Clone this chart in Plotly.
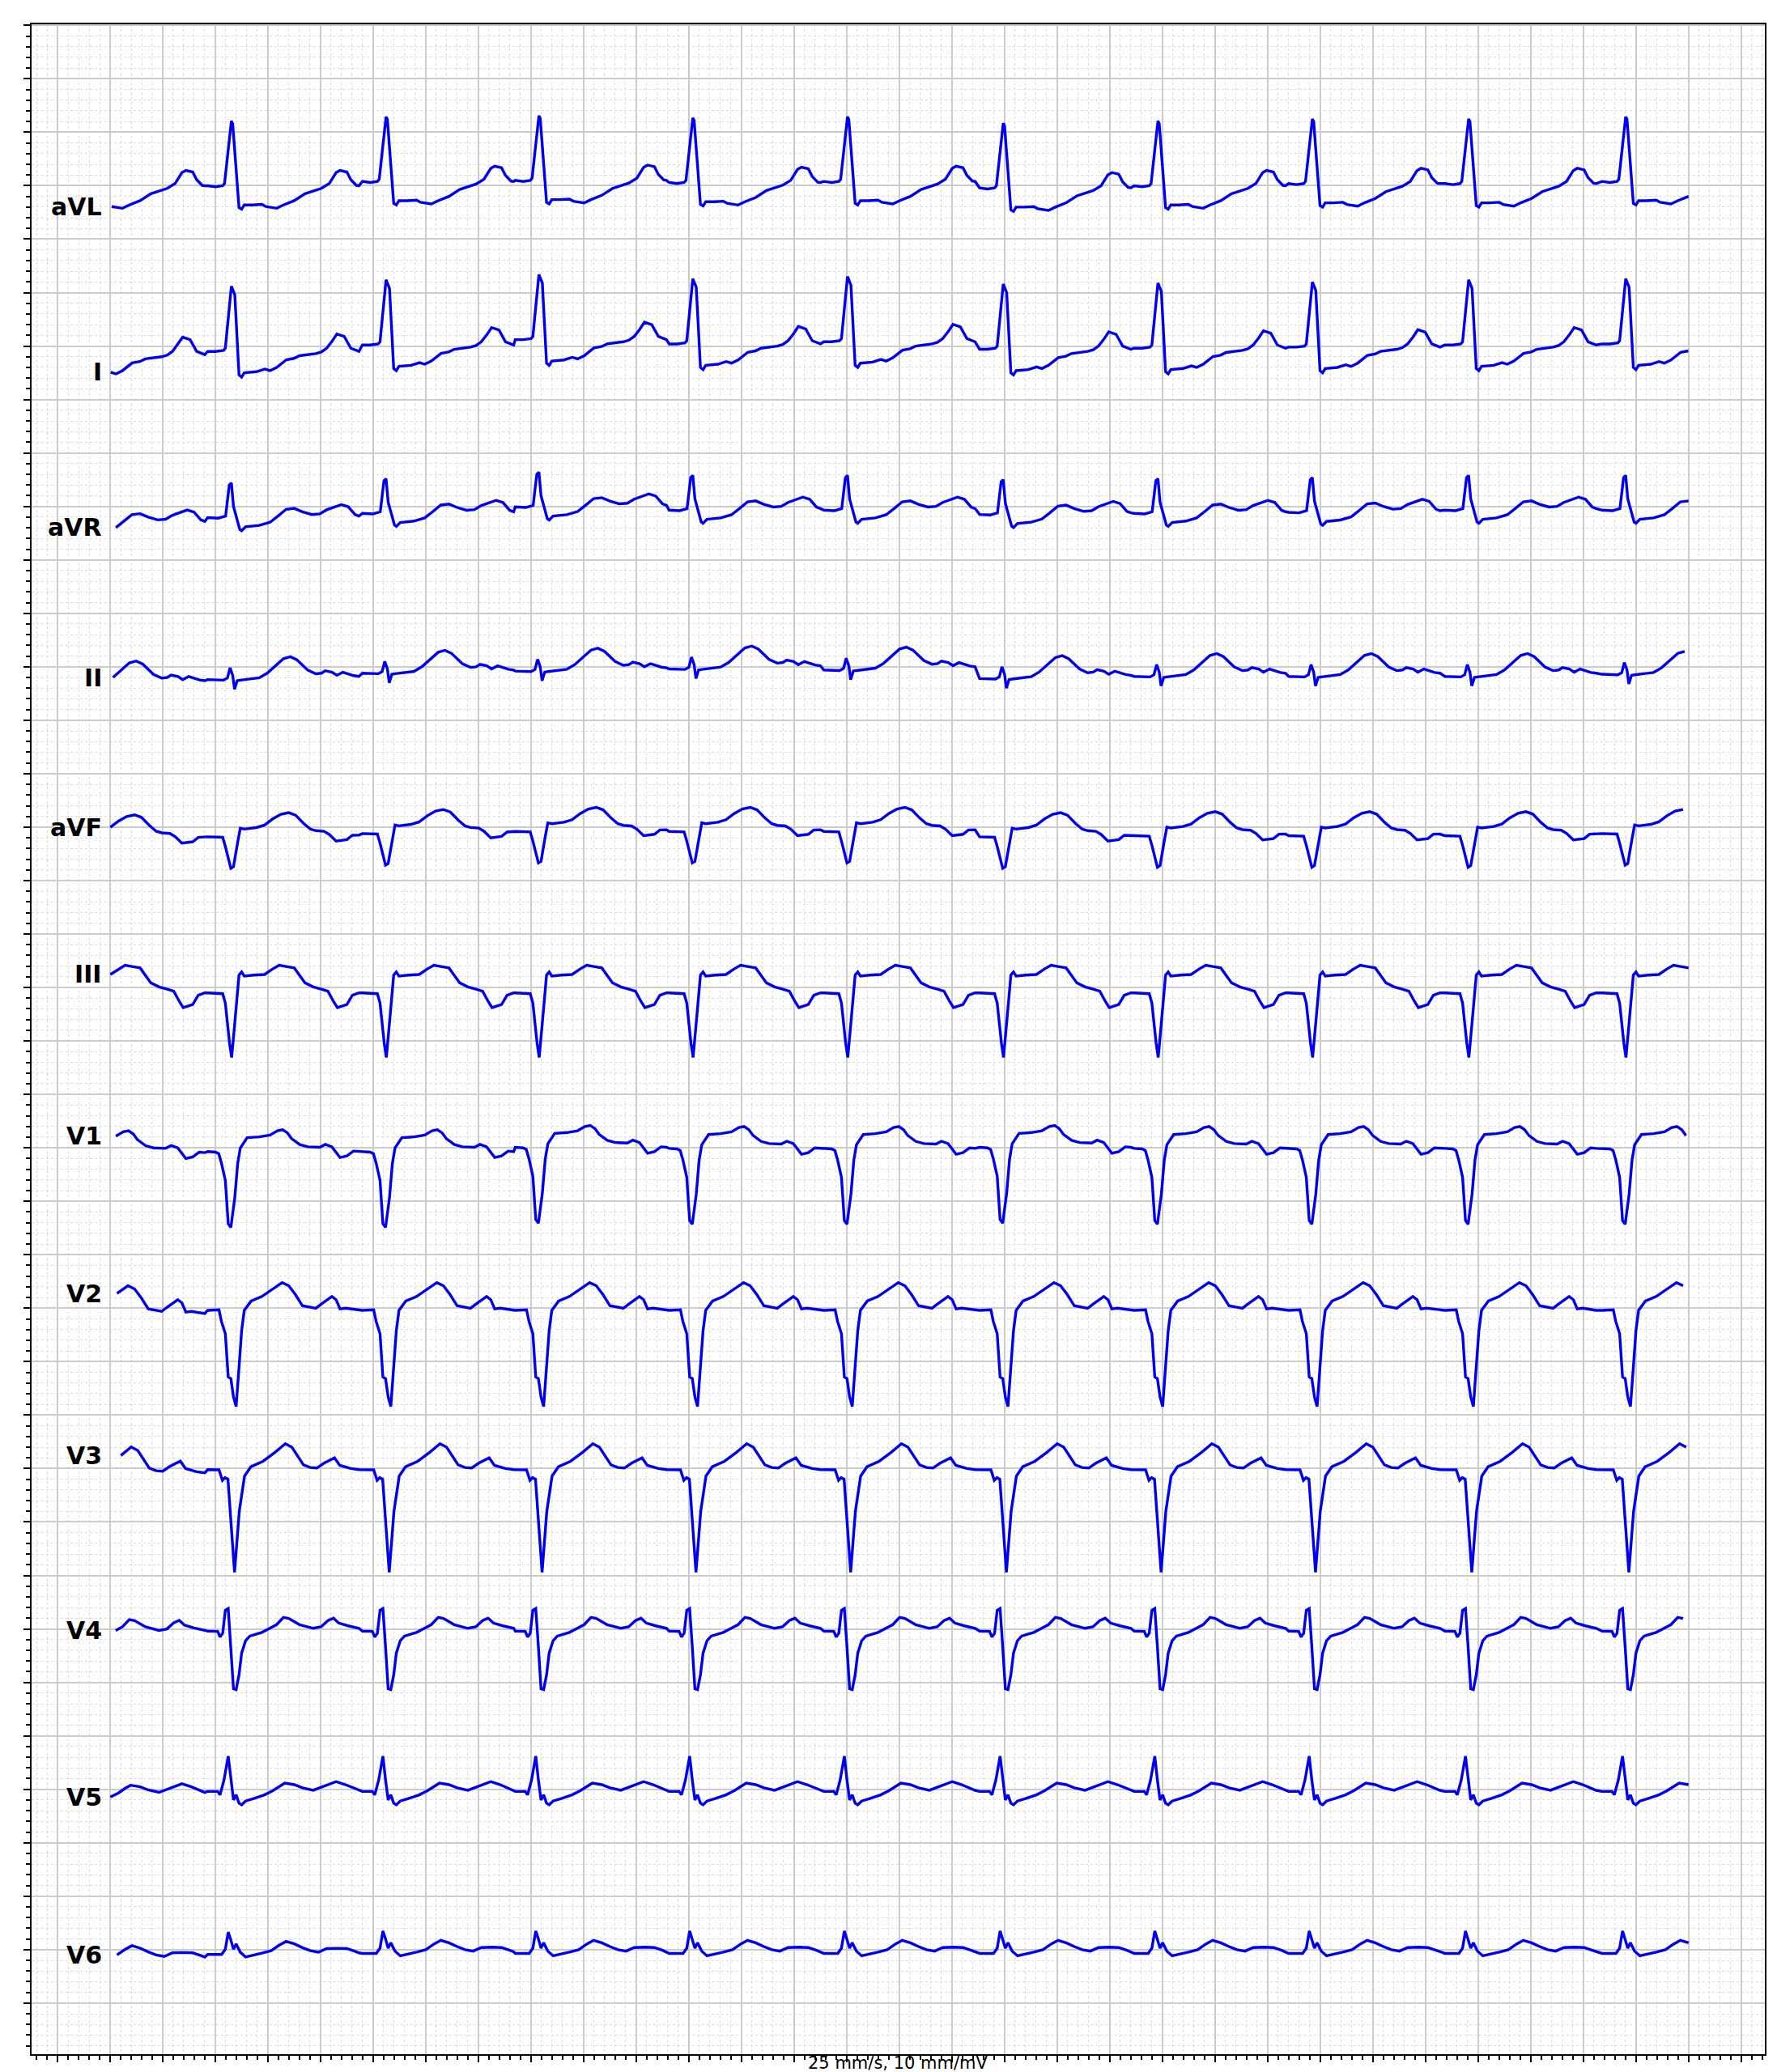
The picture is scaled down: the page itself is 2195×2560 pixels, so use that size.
import plotly.graph_objects as go

# leads from top to bottom
LEADS = ["aVL", "I", "aVR", "II", "aVF", "III", "V1", "V2", "V3", "V4", "V5", "V6"]
ROW_STEP = 1.5  # mV between rows
T_END = 6.0     # s

# R-peak times (s); the first one is the beat just before the strip starts
R_PEAKS = [-0.125, 0.461, 1.049, 1.630, 2.215, 2.803, 3.395, 3.983, 4.570, 5.164, 5.761]

# one beat per lead: (seconds from R peak, mV)
AVL_BEAT = [(-0.090, 0.040), (-0.060, 0.030), (-0.033, 0.040), (-0.026, 0.060), (0.000, 0.645),
            (0.005, 0.620), (0.029, -0.165), (0.039, -0.180), (0.049, -0.140), (0.080, -0.140),
            (0.116, -0.135), (0.131, -0.155), (0.172, -0.171), (0.198, -0.140), (0.239, -0.100),
            (0.280, -0.035), (0.342, 0.015), (0.372, 0.060), (0.398, 0.162), (0.413, 0.183),
            (0.439, 0.168), (0.454, 0.096), (0.475, 0.043), (0.485, 0.040)]
I_BEAT = [(-0.090, 0.020), (-0.060, 0.020), (-0.030, 0.030), (-0.023, 0.050), (0.000, 0.630),
          (0.013, 0.550), (0.029, -0.200), (0.039, -0.220), (0.049, -0.180), (0.095, -0.170),
          (0.127, -0.145), (0.147, -0.160), (0.172, -0.130), (0.209, -0.058), (0.238, -0.045),
          (0.259, -0.020), (0.321, 0.000), (0.342, 0.015), (0.362, 0.050), (0.383, 0.116),
          (0.401, 0.183), (0.429, 0.160), (0.454, 0.050), (0.485, 0.020)]
AVR_BEAT = [(-0.090, -0.035), (-0.050, -0.040), (-0.022, -0.020), (-0.008, 0.270), (0.000, 0.290),
            (0.008, 0.070), (0.018, -0.020), (0.032, -0.145), (0.039, -0.157), (0.054, -0.120),
            (0.106, -0.107), (0.147, -0.078), (0.177, -0.020), (0.208, 0.043), (0.239, 0.052),
            (0.270, 0.020), (0.306, -0.006), (0.336, 0.000), (0.362, 0.038), (0.393, 0.067),
            (0.418, 0.087), (0.444, 0.067), (0.470, -0.006), (0.485, -0.020)]
II_BEAT = [(-0.090, -0.060), (-0.030, -0.065), (-0.015, -0.045), (-0.005, 0.050), (0.005, -0.020),
           (0.012, -0.150), (0.022, -0.070), (0.034, -0.065), (0.065, -0.055), (0.106, -0.043),
           (0.136, 0.000), (0.167, 0.072), (0.198, 0.136), (0.224, 0.154), (0.249, 0.125),
           (0.290, 0.029), (0.321, -0.006), (0.342, 0.000), (0.357, 0.023), (0.383, 0.009),
           (0.401, -0.020), (0.424, 0.009), (0.465, -0.023), (0.485, -0.030)]
AVF_BEAT = [(-0.090, -0.060), (-0.033, -0.065), (-0.023, -0.150), (-0.002, -0.355), (0.008, -0.340),
            (0.024, -0.110), (0.034, 0.020), (0.049, 0.012), (0.095, 0.026), (0.126, 0.049),
            (0.157, 0.107), (0.188, 0.150), (0.218, 0.165), (0.244, 0.142), (0.275, 0.064),
            (0.300, 0.012), (0.321, -0.003), (0.352, -0.009), (0.372, -0.038), (0.398, -0.100),
            (0.413, -0.095), (0.439, -0.087), (0.460, -0.046), (0.485, -0.045)]
III_BEAT = [(-0.090, -0.050), (-0.033, -0.058), (-0.023, -0.145), (-0.007, -0.520), (0.001, -0.655),
            (0.013, -0.330), (0.029, 0.116), (0.039, 0.145), (0.049, 0.107), (0.085, 0.116),
            (0.126, 0.122), (0.157, 0.174), (0.182, 0.209), (0.208, 0.197), (0.239, 0.183),
            (0.280, 0.043), (0.311, 0.006), (0.342, -0.015), (0.367, -0.035), (0.388, -0.130),
            (0.403, -0.188), (0.439, -0.160), (0.460, -0.072), (0.485, -0.050)]
V1_BEAT = [(-0.090, -0.005), (-0.060, -0.010), (-0.048, -0.025), (-0.038, -0.110), (-0.023, -0.275),
           (-0.012, -0.680), (-0.002, -0.715), (0.013, -0.435), (0.024, -0.116), (0.034, 0.029),
           (0.060, 0.125), (0.106, 0.133), (0.147, 0.150), (0.175, 0.190), (0.195, 0.200),
           (0.213, 0.170), (0.229, 0.116), (0.260, 0.060), (0.290, 0.040), (0.336, 0.035),
           (0.357, 0.062), (0.382, 0.040), (0.413, -0.060), (0.439, -0.045), (0.464, 0.000),
           (0.485, -0.005)]
V2_BEAT = [(-0.090, -0.020), (-0.047, -0.015), (-0.038, -0.122), (-0.023, -0.238), (-0.012, -0.643),
           (-0.002, -0.658), (0.008, -0.830), (0.018, -0.920), (0.029, -0.556), (0.039, -0.209),
           (0.049, -0.020), (0.075, 0.067), (0.116, 0.110), (0.151, 0.168), (0.193, 0.240),
           (0.218, 0.210), (0.244, 0.125), (0.270, 0.023), (0.321, 0.000), (0.341, 0.038),
           (0.382, 0.110), (0.398, 0.080), (0.413, -0.006), (0.434, 0.000), (0.464, -0.010),
           (0.485, -0.020)]
V3_BEAT = [(-0.090, -0.010), (-0.047, -0.012), (-0.034, -0.110), (-0.024, -0.085), (-0.013, -0.100),
           (-0.003, -0.450), (0.012, -0.970), (0.030, -0.400), (0.050, -0.070), (0.074, 0.017),
           (0.120, 0.068), (0.166, 0.152), (0.205, 0.232), (0.230, 0.200), (0.274, 0.034),
           (0.300, 0.010), (0.325, 0.005), (0.352, 0.050), (0.392, 0.100), (0.412, 0.030),
           (0.454, 0.000), (0.485, -0.010)]
V4_BEAT = [(-0.090, -0.020), (-0.052, -0.023), (-0.043, -0.075), (-0.033, -0.040), (-0.023, 0.174),
           (-0.012, 0.190), (-0.002, -0.168), (0.008, -0.560), (0.018, -0.568), (0.029, -0.430),
           (0.039, -0.226), (0.054, -0.110), (0.070, -0.067), (0.116, -0.032), (0.146, 0.006),
           (0.172, 0.040), (0.198, 0.107), (0.218, 0.098), (0.259, 0.040), (0.311, 0.006),
           (0.341, 0.020), (0.367, 0.078), (0.388, 0.100), (0.408, 0.055), (0.444, 0.029),
           (0.485, 0.006)]
V5_BEAT = [(-0.090, -0.020), (-0.052, -0.020), (-0.043, -0.052), (-0.028, 0.087), (-0.012, 0.310),
           (-0.002, 0.087), (0.008, -0.100), (0.018, -0.052), (0.029, -0.130), (0.039, -0.145),
           (0.054, -0.110), (0.085, -0.087), (0.126, -0.052), (0.157, -0.014), (0.182, 0.029),
           (0.203, 0.058), (0.239, 0.043), (0.270, 0.014), (0.311, -0.009), (0.352, 0.029),
           (0.398, 0.072), (0.434, 0.043), (0.475, 0.000), (0.485, -0.010)]
V6_BEAT = [(-0.090, -0.035), (-0.037, -0.035), (-0.023, 0.014), (-0.012, 0.174), (-0.002, 0.100),
           (0.008, 0.014), (0.018, 0.064), (0.034, -0.015), (0.054, -0.058), (0.085, -0.043),
           (0.116, -0.023), (0.151, 0.000), (0.182, 0.052), (0.208, 0.087), (0.239, 0.064),
           (0.270, 0.029), (0.300, 0.000), (0.331, -0.014), (0.362, 0.020), (0.403, 0.023),
           (0.439, 0.020), (0.470, -0.006), (0.485, -0.020)]

# baseline shift of each beat (mV), same order as R_PEAKS
AVL_SHIFT = [-0.04, -0.04, 0.00, 0.01, -0.01, 0.00, -0.06, -0.04, -0.02, -0.02, 0.00]
I_SHIFT = [-0.10, -0.07, -0.01, 0.04, 0.00, 0.02, -0.05, -0.04, -0.03, -0.01, 0.00]
AVR_SHIFT = [-0.12, -0.07, -0.03, 0.03, 0.00, 0.00, -0.04, -0.03, -0.02, 0.00, 0.00]
II_SHIFT = [-0.10, -0.06, 0.00, 0.02, 0.04, 0.03, -0.05, -0.03, -0.03, -0.03, -0.01]
AVF_SHIFT = [-0.05, -0.03, 0.00, 0.02, 0.02, 0.02, -0.03, -0.02, -0.02, -0.02, 0.00]
III_SHIFT = [0.00, 0.00, 0.00, 0.00, 0.00, 0.00, 0.00, 0.00, 0.00, 0.00, 0.00]
V1_SHIFT = [-0.04, -0.03, -0.03, 0.01, 0.00, 0.00, 0.01, 0.00, 0.00, 0.00, 0.00]
V2_SHIFT = [-0.03, 0.00, 0.00, 0.00, 0.00, 0.00, 0.00, 0.00, 0.00, 0.00, 0.00]
V3_SHIFT = [-0.03, 0.00, 0.00, 0.00, 0.00, 0.00, 0.00, 0.00, 0.00, 0.00, 0.00]
V4_SHIFT = [-0.02, 0.00, 0.00, 0.00, 0.00, 0.00, 0.00, 0.00, 0.00, 0.00, 0.00]
V5_SHIFT = [-0.02, 0.00, 0.00, 0.00, 0.00, 0.00, 0.00, 0.00, 0.00, 0.00, 0.00]
V6_SHIFT = [-0.05, -0.01, 0.00, 0.00, 0.00, 0.00, 0.00, 0.00, 0.00, 0.00, 0.00]

beats = {
    "aVL": (AVL_BEAT, AVL_SHIFT), "I": (I_BEAT, I_SHIFT), "aVR": (AVR_BEAT, AVR_SHIFT),
    "II": (II_BEAT, II_SHIFT), "aVF": (AVF_BEAT, AVF_SHIFT), "III": (III_BEAT, III_SHIFT),
    "V1": (V1_BEAT, V1_SHIFT), "V2": (V2_BEAT, V2_SHIFT), "V3": (V3_BEAT, V3_SHIFT),
    "V4": (V4_BEAT, V4_SHIFT), "V5": (V5_BEAT, V5_SHIFT), "V6": (V6_BEAT, V6_SHIFT),
}

fig = go.Figure()

for i, lead in enumerate(LEADS):
    beat, shift = beats[lead]
    ts, vs = [], []
    for r, s in zip(R_PEAKS, shift):
        for dt, mv in beat:
            t = r + dt
            if 0 <= t <= T_END:
                ts.append(round(t, 4))
                vs.append(mv + s - i * ROW_STEP)
    fig.add_trace(go.Scatter(x=ts, y=vs, mode="lines", line=dict(color="#0000ee", width=3.4),
                             showlegend=False, hoverinfo="skip"))
    # lead name sits at the level where the trace starts
    fig.add_annotation(x=-0.025, y=vs[0], text="<b>" + lead + "</b>", showarrow=False,
                       xanchor="right", yanchor="middle",
                       font=dict(family="DejaVu Sans", size=30, color="black"))

fig.add_annotation(x=0.5, y=0, xref="paper", yref="paper", text="25 mm/s, 10 mm/mV",
                   showarrow=False, xanchor="center", yanchor="middle", yshift=-11,
                   font=dict(family="DejaVu Sans", size=21, color="black"))

axis_common = dict(showline=True, linecolor="black", linewidth=2, mirror=True,
                   ticks="outside", ticklen=8, tickwidth=1.5, tickcolor="black",
                   showticklabels=False, zeroline=False,
                   showgrid=True, gridcolor="#cccccc", gridwidth=2)

fig.update_xaxes(range=[-0.2985, 6.29], tick0=0, dtick=0.2,
                 minor=dict(tick0=0, dtick=0.04, showgrid=True, gridcolor="#dcdcdc",
                            griddash="dot", gridwidth=1, ticks="outside", ticklen=5,
                            tickcolor="black"),
                 **axis_common)
fig.update_yaxes(range=[-17.478, 1.510], tick0=0, dtick=0.5,
                 minor=dict(tick0=0, dtick=0.1, showgrid=True, gridcolor="#dcdcdc",
                            griddash="dot", gridwidth=1, ticks="outside", ticklen=5,
                            tickcolor="black"),
                 **axis_common)

fig.update_layout(width=2195, height=2560, margin=dict(l=31, r=23, t=22, b=30),
                  plot_bgcolor="white", paper_bgcolor="white",
                  font=dict(family="DejaVu Sans"))

fig.write_html("out.html")
